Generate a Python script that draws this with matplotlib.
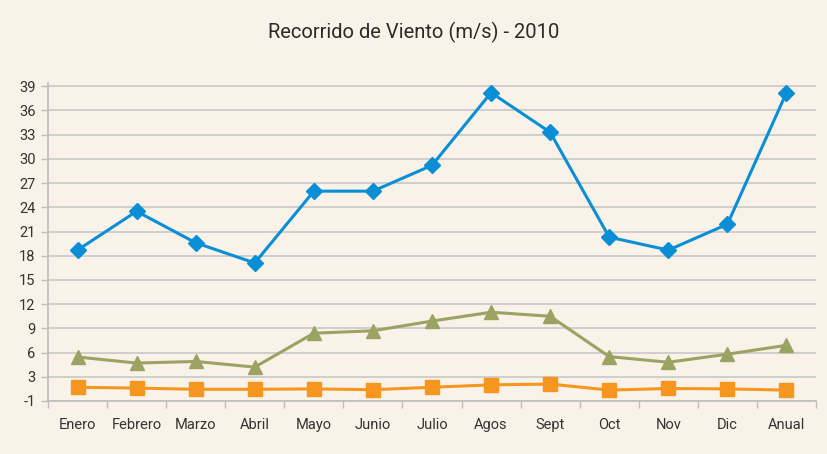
import matplotlib
matplotlib.use("Agg")
import matplotlib.pyplot as plt
import numpy as np

categories = ["Enero", "Febrero", "Marzo", "Abril", "Mayo", "Junio", "Julio",
              "Agos", "Sept", "Oct", "Nov", "Dic", "Anual"]
serie_max = [18.7, 23.5, 19.6, 17.1, 26.0, 26.0, 29.2, 38.2, 33.3, 20.3, 18.7, 21.9, 38.2]
serie_media = [5.45, 4.7, 4.9, 4.2, 8.4, 8.7, 9.9, 11.0, 10.5, 5.5, 4.8, 5.8, 6.9]
serie_min = [1.7, 1.6, 1.45, 1.45, 1.5, 1.4, 1.7, 2.0, 2.1, 1.35, 1.55, 1.5, 1.35]
ytick_vals = list(range(0, 40, 3))
ytick_labels = ["-1"] + [str(v) for v in ytick_vals[1:]]
title = "Recorrido de Viento (m/s) - 2010"

bg = "#F9F2E8"
plt.rcParams['font.family'] = ['Roboto', 'DejaVu Sans']

fig = plt.figure(figsize=(8.27, 4.54), dpi=100, facecolor=bg)
ax = fig.add_axes([48/827, 1-401/454, (816-48)/827, (401-83)/454])
ax.set_facecolor(bg)

x = np.arange(len(categories))
ax.plot(x, serie_max, color="#0A8FD6", lw=2.2, marker="D", ms=8, zorder=4)
ax.plot(x, serie_media, color="#9BA363", lw=2.2, marker="^", ms=10, zorder=3)
ax.plot(x, serie_min, color="#F7961E", lw=2.2, marker="s", ms=9.5, zorder=3)

ax.set_xlim(-0.5, len(categories) - 0.5)
ax.set_ylim(0, 39.4)
ax.set_yticks(ytick_vals)
ax.set_yticklabels(ytick_labels)
ax.set_xticks(x)
ax.set_xticklabels(categories)
ax.set_xticks(np.arange(-0.5, len(categories)), minor=True)
ax.tick_params(axis='x', which='major', length=0, pad=12, labelsize=10.5, labelcolor="#333333")
ax.tick_params(axis='x', which='minor', length=5, color="#BDBDBD", width=1)
ax.tick_params(axis='y', length=5, color="#BDBDBD", width=1, labelsize=10.5, labelcolor="#333333", pad=4)

ax.yaxis.grid(True, color="#C9C9C9", lw=1.2, zorder=0)
ax.set_axisbelow(True)
for s in ["top", "right"]:
    ax.spines[s].set_visible(False)
ax.spines["left"].set_color("#BDBDBD")
ax.spines["bottom"].set_color("#BDBDBD")
ax.spines["left"].set_linewidth(1.2)
ax.spines["bottom"].set_linewidth(1.2)

fig.text(0.5, 1-32/454, title, ha="center", va="center", fontsize=14.5, color="#2A2A2A")

fig.savefig("out.png", dpi=100, facecolor=bg)
